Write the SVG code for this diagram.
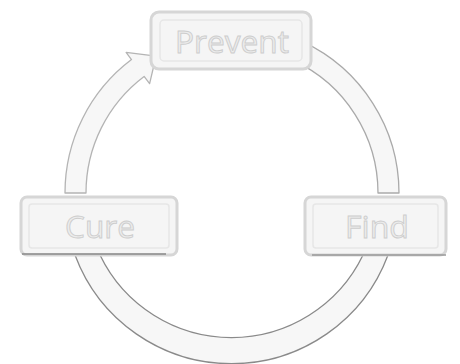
<svg xmlns="http://www.w3.org/2000/svg" width="460" height="364" viewBox="0 0 460 364">
<style>
.bg{fill:#ffffff}
.band{fill:#f7f7f7;stroke-width:1.3;stroke-linejoin:round}
.box{fill:#f5f5f5;stroke:#d6d6d6;stroke-width:3}
.inner{fill:none;stroke:#e6e6e6;stroke-width:1.5}
.lbl{font-family:"Open Sans","Liberation Sans",sans-serif;font-size:31px;fill:#ececec;stroke:#cdcdcd;stroke-width:0.9;text-anchor:middle}
</style>
<rect class="bg" x="0" y="0" width="460" height="364"/>
<g id="connectors">
<path class="band" stroke="#b4b4b4" d="M65,193 A167,167 0 0 1 131.5,59.6 L126.1,52.4 L156.1,56.1 L149.6,83.6 L144.1,76.4 A146,146 0 0 0 86,193 Z"/>
<path class="band" stroke="#aaaaaa" d="M302.6,41.7 A167,167 0 0 1 399,193 L378,193 A146,146 0 0 0 293.7,60.7 Z"/>
<path class="band" stroke="#8a8a8a" d="M388,255 A167,167 0 0 1 75,255 L100,255 A146,146 0 0 0 363,255 Z"/>
</g>
<g id="prevent">
<rect class="box" x="151" y="12" width="160" height="57" rx="8"/>
<rect class="inner" x="160" y="20" width="142" height="41" rx="4"/>
<text class="lbl" x="232" y="53" textLength="114" lengthAdjust="spacingAndGlyphs">Prevent</text>
</g>
<g id="cure">
<rect class="box" x="21" y="197" width="156" height="58" rx="6"/>
<rect class="inner" x="29" y="204" width="140" height="44" rx="3"/>
<line x1="22" y1="254" x2="166" y2="254" stroke="#888" stroke-width="1.5"/>
<text class="lbl" x="100" y="238" textLength="70" lengthAdjust="spacingAndGlyphs">Cure</text>
</g>
<g id="find">
<rect class="box" x="305" y="197" width="141" height="58" rx="6"/>
<rect class="inner" x="313" y="204" width="125" height="44" rx="3"/>
<line x1="312" y1="255" x2="446" y2="255" stroke="#999" stroke-width="1.5"/>
<text class="lbl" x="377" y="238" textLength="64" lengthAdjust="spacingAndGlyphs">Find</text>
</g>
</svg>
